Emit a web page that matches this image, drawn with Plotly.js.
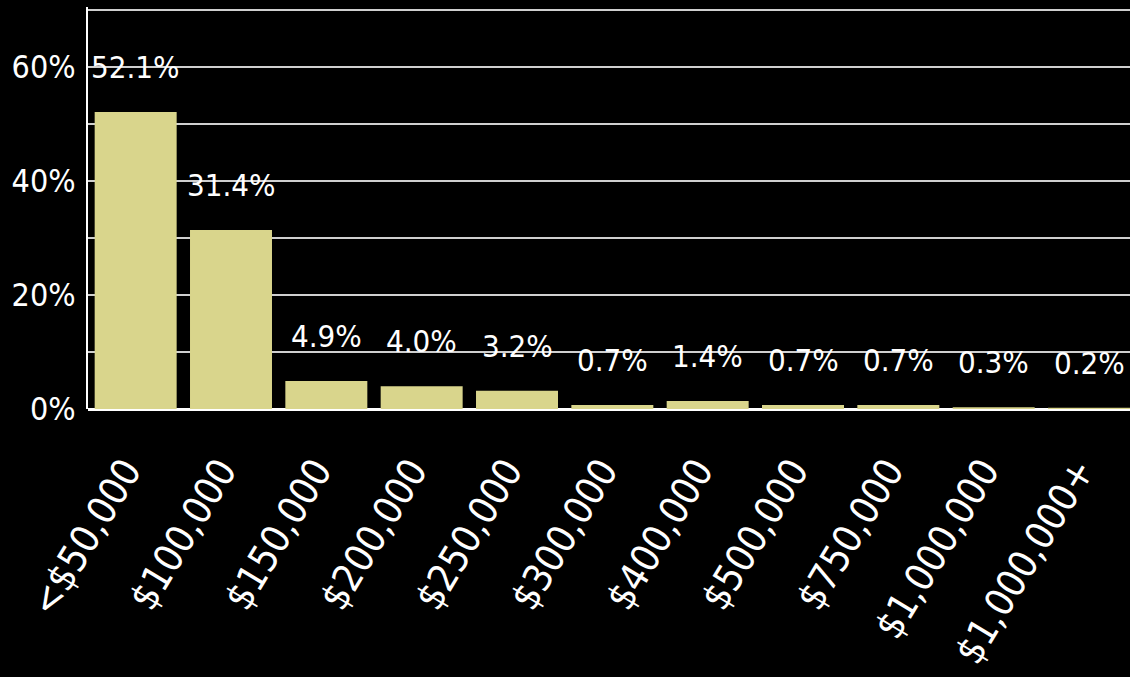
<!DOCTYPE html>
<html>
<head>
<meta charset="utf-8">
<script src="https://cdn.plot.ly/plotly-3.0.1.min.js"></script>
<style>html,body{margin:0;padding:0;background:#000;}#chart{width:1130px;height:677px;}</style>
</head>
<body>
<div id="chart"></div>
<script>
const categories = ["<$50,000","$100,000","$150,000","$200,000","$250,000","$300,000","$400,000","$500,000","$750,000","$1,000,000","$1,000,000+"];
const values = [52.1, 31.4, 4.9, 4.0, 3.2, 0.7, 1.4, 0.7, 0.7, 0.3, 0.2];
const valueLabels = ["52.1%","31.4%","4.9%","4.0%","3.2%","0.7%","1.4%","0.7%","0.7%","0.3%","0.2%"];
const yTickVals = [0,10,20,30,40,50,60,70];
const yTickText = ["0%","","20%","","40%","","60%",""];

const FONT = '"DejaVu Sans Condensed", "Liberation Sans", sans-serif';

const trace = {
  type: 'bar',
  x: categories,
  y: values,
  marker: {color: '#d9d58c', line: {width: 0}},
  hoverinfo: 'skip'
};

const annotations = categories.map((c, i) => ({
  x: c, y: values[i], xref: 'x', yref: 'y',
  text: valueLabels[i], showarrow: false,
  yanchor: 'bottom', xanchor: 'center', yshift: 25,
  font: {family: FONT, size: 31, color: '#ffffff'}
}));

const layout = {
  width: 1130, height: 677,
  paper_bgcolor: '#000000', plot_bgcolor: '#000000',
  margin: {l: 88, r: 0, t: 7, b: 268},
  bargap: 0.14,
  showlegend: false,
  xaxis: {
    type: 'category',
    range: [-0.5, 10.43],
    tickangle: -59,
    tickfont: {family: FONT, size: 39, color: '#ffffff'},
    showgrid: false,
    showline: false,
    ticks: '',
    zeroline: false,
    ticklabelstandoff: 30,
    ticklabelshift: -10
  },
  yaxis: {
    range: [0, 70.5],
    tickvals: yTickVals,
    ticktext: yTickText,
    tickfont: {family: FONT, size: 32, color: '#ffffff'},
    showgrid: true,
    gridcolor: '#cfcfcf',
    gridwidth: 1.5,
    showline: true,
    linecolor: '#ffffff',
    linewidth: 2,
    zeroline: true,
    zerolinecolor: '#ffffff',
    zerolinewidth: 3,
    ticks: '',
    ticklabelstandoff: 4
  },
  annotations: annotations
};

Plotly.newPlot('chart', [trace], layout, {displayModeBar: false, staticPlot: true});
</script>
</body>
</html>
